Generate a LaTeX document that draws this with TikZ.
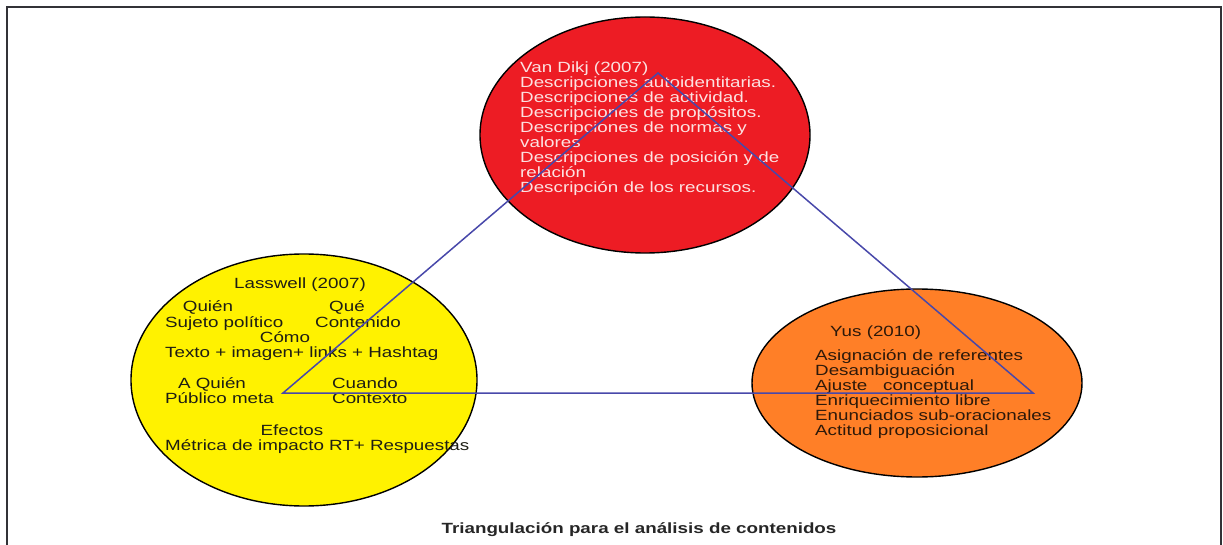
\documentclass[tikz,border=0pt]{standalone}
\usepackage{fontspec}
\setmainfont{Liberation Sans}[FakeStretch=1.27]
\usetikzlibrary{shapes.geometric}
\definecolor{redfill}{RGB}{237,28,36}
\definecolor{yellowfill}{RGB}{255,242,0}
\definecolor{orangefill}{RGB}{255,127,39}
\definecolor{triline}{RGB}{72,72,170}
\definecolor{framegray}{RGB}{50,50,55}
\definecolor{redtext}{RGB}{252,225,225}
\definecolor{orangetext}{RGB}{45,25,10}
\definecolor{yellowtext}{RGB}{30,30,20}
\tikzset{
  blob/.style={ellipse, draw=black, line width=1.4pt, inner sep=0pt},
  txt/.style={font=\fontsize{14.8}{15}\selectfont, inner sep=0pt},
  ltxt/.style={txt, anchor=base west},
  ctxt/.style={txt, anchor=base},
  blocktxt/.style={txt, align=left, anchor=north west},
  tri/.style={draw=triline, line width=1.5pt, line join=miter},
  framestyle/.style={draw=framegray, line width=2pt}
}
\begin{document}
\begin{tikzpicture}[x=1pt,y=-1pt]
\useasboundingbox (0,0) rectangle (1223,545);
\draw[framestyle] (7,545) -- (7,7) -- (1221,7) -- (1221,545);

% ellipses
\node[blob, fill=redfill, minimum width=330pt, minimum height=236pt] (vandijk) at (645,135) {};
\node[blob, fill=yellowfill, minimum width=346pt, minimum height=252pt] (lasswell) at (304,380) {};
\node[blob, fill=orangefill, minimum width=330pt, minimum height=188pt] (yus) at (917,383) {};

% red text
\node[blocktxt, text=redtext] (vdtext) at (520,62) {Van Dikj (2007)\\
Descripciones autoidentitarias.\\
Descripciones de actividad.\\
Descripciones de propósitos.\\
Descripciones de normas y\\
valores\\
Descripciones de posición y de\\
relación\\
Descripción de los recursos.};

% yellow texts
\begin{scope}[every node/.append style={text=yellowtext}]
\node[ctxt] (lw) at (300,288) {Lasswell (2007)};
\node[ctxt] (quien) at (208,312) {Quién};
\node[ctxt] (que) at (347,312) {Qué};
\node[ltxt] (sujeto) at (165,327) {Sujeto político};
\node[ltxt] (contenido) at (315,327) {Contenido};
\node[ctxt] (como) at (285,342) {Cómo};
\node[ltxt] (texto) at (165,357) {Texto + imagen+ links + Hashtag};
\node[ctxt] (aquien) at (212,388) {A Quién};
\node[ctxt] (cuando) at (365,388) {Cuando};
\node[ltxt] (publico) at (165,403) {Público meta};
\node[ltxt] (contexto) at (332,403) {Contexto};
\node[ctxt] (efectos) at (292,435) {Efectos};
\node[ltxt] (metrica) at (165,450) {Métrica de impacto RT+ Respuestas};
\end{scope}

% orange texts
\node[ltxt, text=orangetext] (yustitle) at (830,336) {Yus (2010)};
\node[blocktxt, text=orangetext] (yuslist) at (815,349) {Asignación de referentes\\
Desambiguación\\
Ajuste\ \ \ conceptual\\
Enriquecimiento libre\\
Enunciados sub-oracionales\\
Actitud proposicional};

% triangle
\coordinate (apex) at (658,73);
\coordinate (leftv) at (283,393);
\coordinate (rightv) at (1033,393);
\draw[tri] (apex) -- (rightv) -- (leftv) -- cycle;

% caption
\node[ctxt, font=\bfseries\fontsize{14.8}{15}\selectfont, text=black!85] (caption) at (639,533) {Triangulación para el análisis de contenidos};
\end{tikzpicture}
\end{document}
